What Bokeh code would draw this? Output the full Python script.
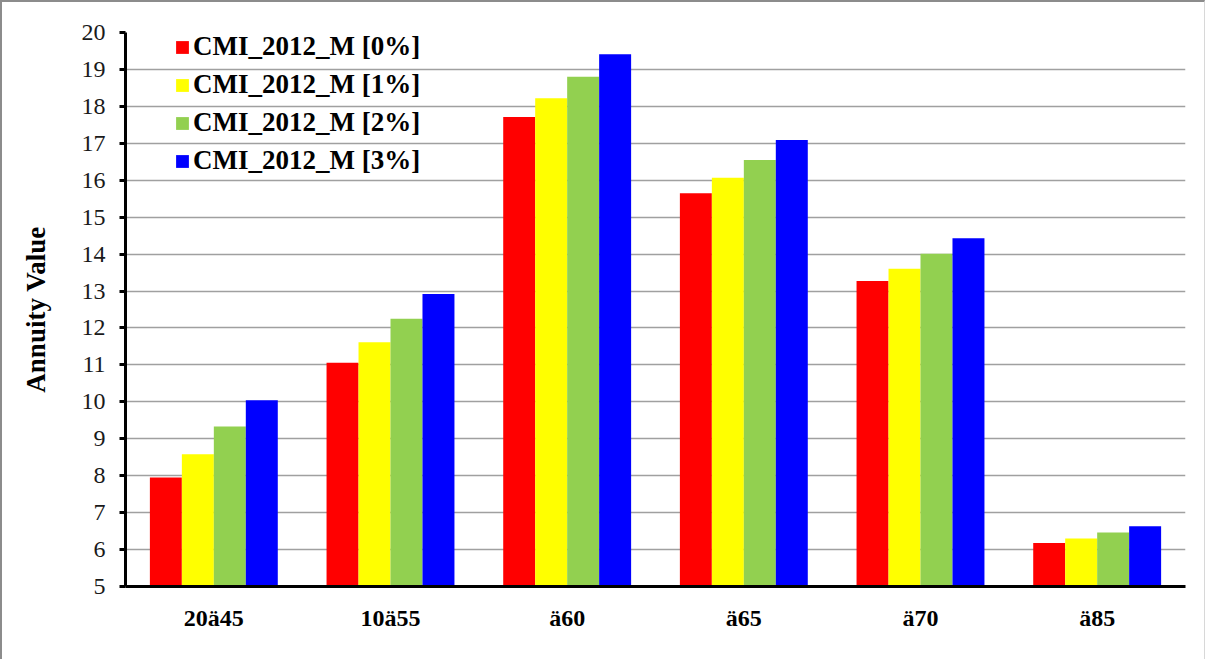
from bokeh.plotting import figure
from bokeh.models import ColumnDataSource, FactorRange, Range1d, Legend, LegendItem, SingleIntervalTicker
from bokeh.transform import dodge
from bokeh.embed import file_html
from bokeh.resources import INLINE

categories = ["20ä45", "10ä55", "ä60", "ä65", "ä70", "ä85"]
series_names = ["CMI_2012_M [0%]", "CMI_2012_M [1%]", "CMI_2012_M [2%]", "CMI_2012_M [3%]"]
s0 = [7.95, 11.06, 17.71, 15.65, 13.27, 6.18]
s1 = [8.58, 11.61, 18.22, 16.07, 13.60, 6.30]
s2 = [9.33, 12.25, 18.80, 16.55, 14.01, 6.46]
s3 = [10.04, 12.92, 19.41, 17.09, 14.43, 6.63]
colors = ["#FF0000", "#FFFF00", "#92D050", "#0000FF"]

source = ColumnDataSource(dict(cat=categories, s0=s0, s1=s1, s2=s2, s3=s3))

FONT = "Liberation Serif"

p = figure(x_range=FactorRange(*categories, range_padding=0),
           y_range=Range1d(5, 20),
           width=1205, height=659,
           output_backend="svg", toolbar_location=None,
           min_border_left=123, min_border_right=22,
           min_border_top=30, min_border_bottom=75)
p.styles = {"border-left": "2px solid #8c8c8c", "border-top": "2px solid #8c8c8c",
            "border-right": "1px solid #d8d8d8"}

bw = 0.181
offsets = [-1.5 * bw, -0.5 * bw, 0.5 * bw, 1.5 * bw]
renderers = []
for i, key in enumerate(["s0", "s1", "s2", "s3"]):
    r = p.vbar(x=dodge("cat", offsets[i], range=p.x_range), top=key, bottom=5,
               width=bw, source=source, fill_color=colors[i], line_color=None)
    renderers.append(r)

p.outline_line_color = None
p.xgrid.grid_line_color = None
p.ygrid.grid_line_color = "#a0a0a0"
p.ygrid.grid_line_width = 1.5

p.yaxis.ticker = SingleIntervalTicker(interval=1)
p.yaxis.axis_line_color = "black"
p.yaxis.axis_line_width = 3
p.yaxis.major_tick_line_color = "black"
p.yaxis.major_tick_line_width = 3
p.yaxis.major_tick_out = 6
p.yaxis.major_tick_in = 0
p.yaxis.minor_tick_line_color = None
p.yaxis.major_label_text_font = FONT
p.yaxis.major_label_text_font_size = "24px"
p.yaxis.major_label_text_color = "#1a1a1a"
p.yaxis.major_label_standoff = 14
p.yaxis.axis_label = "Annuity Value"
p.yaxis.axis_label_text_font = FONT
p.yaxis.axis_label_text_font_style = "bold"
p.yaxis.axis_label_text_font_size = "27px"
p.yaxis.axis_label_text_color = "black"
p.yaxis.axis_label_standoff = 28

p.xaxis.axis_line_color = "black"
p.xaxis.axis_line_width = 3
p.xaxis.major_tick_line_color = None
p.xaxis.major_tick_out = 0
p.xaxis.major_tick_in = 0
p.xaxis.major_label_text_font = FONT
p.xaxis.major_label_text_font_style = "bold"
p.xaxis.major_label_text_font_size = "24px"
p.xaxis.major_label_text_color = "black"
p.xaxis.major_label_standoff = 18

legend = Legend(items=[LegendItem(label=series_names[i], renderers=[renderers[i]]) for i in range(4)],
                location=(49, 410))
legend.label_text_font = FONT
legend.label_text_font_style = "bold"
legend.label_text_font_size = "27px"
legend.label_text_color = "black"
legend.glyph_width = 16
legend.glyph_height = 16
legend.label_height = 30
legend.spacing = 7
legend.padding = 5
legend.margin = 0
legend.label_standoff = 3
legend.background_fill_alpha = 0
legend.border_line_color = None
p.add_layout(legend, "center")

open("out.html", "w").write(file_html(p, INLINE))
